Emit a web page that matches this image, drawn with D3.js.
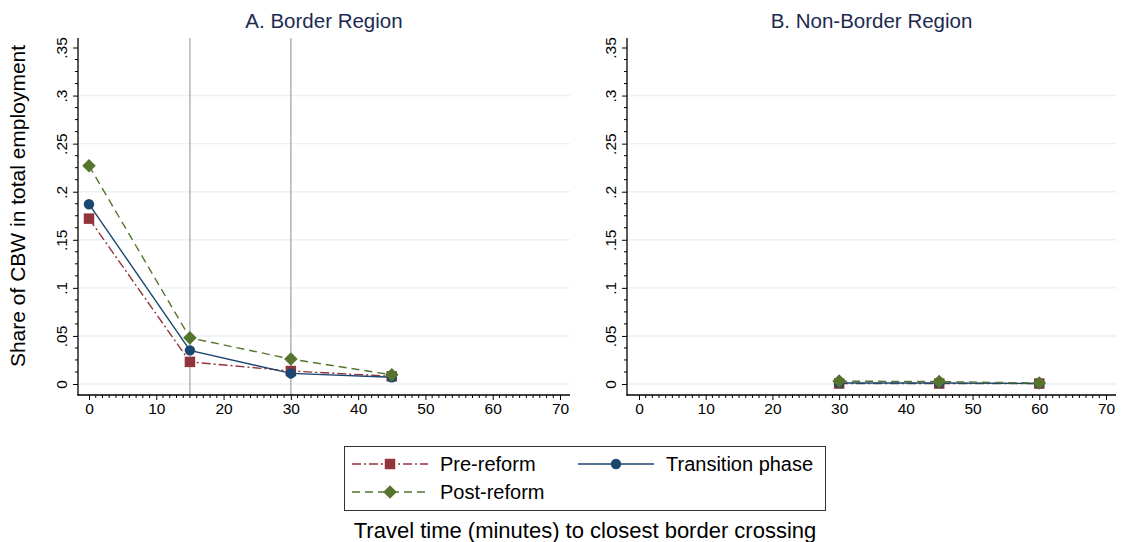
<!DOCTYPE html>
<html>
<head>
<meta charset="utf-8">
<script src="https://cdn.jsdelivr.net/npm/d3@7"></script>
<style>
  html, body { margin: 0; padding: 0; background: #ffffff; }
  svg { display: block; font-family: "Liberation Sans", Arial, sans-serif; }
</style>
</head>
<body>
<svg id="chart" width="1121" height="542"></svg>
<script>
// Travel time (minutes) at which each group is observed
const minutesBorder = [0, 15, 30, 45];
const minutesNonBorder = [30, 45, 60];

// Share of cross-border workers (CBW) in total employment
const preBorder   = [0.172, 0.023, 0.0135, 0.008];
const transBorder = [0.187, 0.035, 0.011, 0.007];
const postBorder  = [0.227, 0.048, 0.026, 0.0095];

const preNonBorder   = [0.0005, 0.0005, 0.0005];
const transNonBorder = [0.001, 0.001, 0.0005];
const postNonBorder  = [0.003, 0.0025, 0.001];

const seriesNames = ["Pre-reform", "Transition phase", "Post-reform"];
const panelTitles = ["A. Border Region", "B. Non-Border Region"];
const referenceMinutes = [15, 30];

const yTicks = [0, 0.05, 0.1, 0.15, 0.2, 0.25, 0.3, 0.35];
const yTickLabels = ["0", ".05", ".1", ".15", ".2", ".25", ".3", ".35"];
const xTicks = [0, 10, 20, 30, 40, 50, 60, 70];

const colors = ["#90353b", "#1a476f", "#55752f"];
const dashes = ["9,3,2,3", null, "8,5"];
// marker shapes: square, circle, diamond (a square turned 45 degrees)
const symbols = [d3.symbolSquare, d3.symbolCircle, d3.symbolSquare];
const symbolSizes = [110, 85, 92];
const symbolRotation = [0, 0, 45];

const svg = d3.select("#chart");

const panels = [
  { title: panelTitles[0], x: minutesBorder, series: [preBorder, transBorder, postBorder],
    axisX: 78, right: 570, x0: 89, x70: 560, refs: referenceMinutes },
  { title: panelTitles[1], x: minutesNonBorder, series: [preNonBorder, transNonBorder, postNonBorder],
    axisX: 627, right: 1116, x0: 639, x70: 1106, refs: [] }
];

const plotTop = 38, axisY = 395;
const y = d3.scaleLinear().domain([0, 0.35]).range([384, 47.5]);

function marker(sel, s) {
  return sel.attr("d", d3.symbol().type(symbols[s]).size(symbolSizes[s])).attr("fill", colors[s]);
}

panels.forEach(p => {
  const x = d3.scaleLinear().domain([0, 70]).range([p.x0, p.x70]);
  const g = svg.append("g");

  // horizontal grid lines
  g.selectAll("line.grid").data(yTicks.filter(t => t < 0.35)).join("line")
    .attr("x1", p.axisX + 1).attr("x2", p.right)
    .attr("y1", d => y(d)).attr("y2", d => y(d))
    .attr("stroke", "#eaf2f3").attr("stroke-width", 1.4);

  // vertical reference lines
  g.selectAll("line.ref").data(p.refs).join("line")
    .attr("x1", d => x(d)).attr("x2", d => x(d))
    .attr("y1", plotTop).attr("y2", axisY)
    .attr("stroke", "#a0a0a0").attr("stroke-width", 1.2);

  // y axis
  const yAxis = d3.axisLeft(y).tickValues(yTicks).tickSize(5).tickSizeOuter(0)
    .tickFormat((d, i) => yTickLabels[i]);
  const ya = g.append("g").attr("transform", `translate(${p.axisX},0)`).call(yAxis);
  ya.select(".domain").remove();
  ya.selectAll(".tick line").attr("stroke", "#000").attr("stroke-width", 1);
  ya.selectAll(".tick text")
    .attr("x", 0).attr("dy", 0)
    .attr("transform", "translate(-11,0) rotate(-90)")
    .attr("text-anchor", "middle")
    .attr("font-size", 15.5).attr("fill", "#000");
  // y minor ticks
  const yMinor = d3.range(0, 0.35 + 1e-9, 0.0125).filter(v => Math.abs(v / 0.05 - Math.round(v / 0.05)) > 1e-6);
  g.selectAll("line.ymin").data(yMinor).join("line")
    .attr("x1", p.axisX - 3).attr("x2", p.axisX)
    .attr("y1", d => y(d)).attr("y2", d => y(d))
    .attr("stroke", "#000").attr("stroke-width", 1);
  g.append("line").attr("x1", p.axisX).attr("x2", p.axisX)
    .attr("y1", plotTop).attr("y2", axisY + 0.5)
    .attr("stroke", "#000").attr("stroke-width", 1.3);

  // x axis
  const xAxis = d3.axisBottom(x).tickValues(xTicks).tickSize(5).tickSizeOuter(0)
    .tickFormat(d3.format("d"));
  const xa = g.append("g").attr("transform", `translate(0,${axisY})`).call(xAxis);
  xa.select(".domain").remove();
  xa.selectAll(".tick line").attr("stroke", "#000").attr("stroke-width", 1);
  xa.selectAll(".tick text").attr("y", 8).attr("font-size", 15.5).attr("fill", "#000");
  const xMinor = d3.range(0, 71, 1).filter(v => v % 10 !== 0);
  g.selectAll("line.xmin").data(xMinor).join("line")
    .attr("x1", d => x(d)).attr("x2", d => x(d))
    .attr("y1", axisY).attr("y2", axisY + 3)
    .attr("stroke", "#000").attr("stroke-width", 1);
  g.append("line").attr("x1", p.axisX - 0.5).attr("x2", p.right)
    .attr("y1", axisY).attr("y2", axisY)
    .attr("stroke", "#000").attr("stroke-width", 1.3);

  // panel title
  g.append("text")
    .attr("x", (p.axisX + p.right) / 2).attr("y", 28)
    .attr("text-anchor", "middle").attr("font-size", 20.5).attr("fill", "#1c2a50")
    .text(p.title);

  // series
  const line = d3.line().x((d, i) => x(p.x[i])).y(d => y(d));
  p.series.forEach((vals, s) => {
    g.append("path").datum(vals)
      .attr("d", line).attr("fill", "none")
      .attr("stroke", colors[s]).attr("stroke-width", 1.4)
      .attr("stroke-dasharray", dashes[s]);
  });
  p.series.forEach((vals, s) => {
    g.selectAll(null).data(vals).join("path")
      .attr("transform", (d, i) => `translate(${x(p.x[i])},${y(d)}) rotate(${symbolRotation[s]})`)
      .call(marker, s);
  });
});

// y axis title
svg.append("text")
  .attr("transform", "translate(25,206) rotate(-90)")
  .attr("text-anchor", "middle").attr("font-size", 21).attr("fill", "#000")
  .text("Share of CBW in total employment");

// legend
const lg = svg.append("g");
lg.append("rect").attr("x", 344.5).attr("y", 446.5).attr("width", 481).attr("height", 64)
  .attr("fill", "#fff").attr("stroke", "#333").attr("stroke-width", 1);
const legendPos = [
  { lx: 352, ly: 464 },
  { lx: 578, ly: 464 },
  { lx: 352, ly: 492 }
];
seriesNames.forEach((name, s) => {
  const { lx, ly } = legendPos[s];
  lg.append("line").attr("x1", lx).attr("x2", lx + 76).attr("y1", ly).attr("y2", ly)
    .attr("stroke", colors[s]).attr("stroke-width", 1.4).attr("stroke-dasharray", dashes[s]);
  lg.append("path").attr("transform", `translate(${lx + 38},${ly}) rotate(${symbolRotation[s]})`)
    .call(marker, s);
  lg.append("text").attr("x", lx + 88).attr("y", ly + 7)
    .attr("font-size", 20).attr("fill", "#000").text(name);
});

// x axis title
svg.append("text")
  .attr("x", 585).attr("y", 538)
  .attr("text-anchor", "middle").attr("font-size", 22).attr("fill", "#000")
  .text("Travel time (minutes) to closest border crossing");
</script>
</body>
</html>
